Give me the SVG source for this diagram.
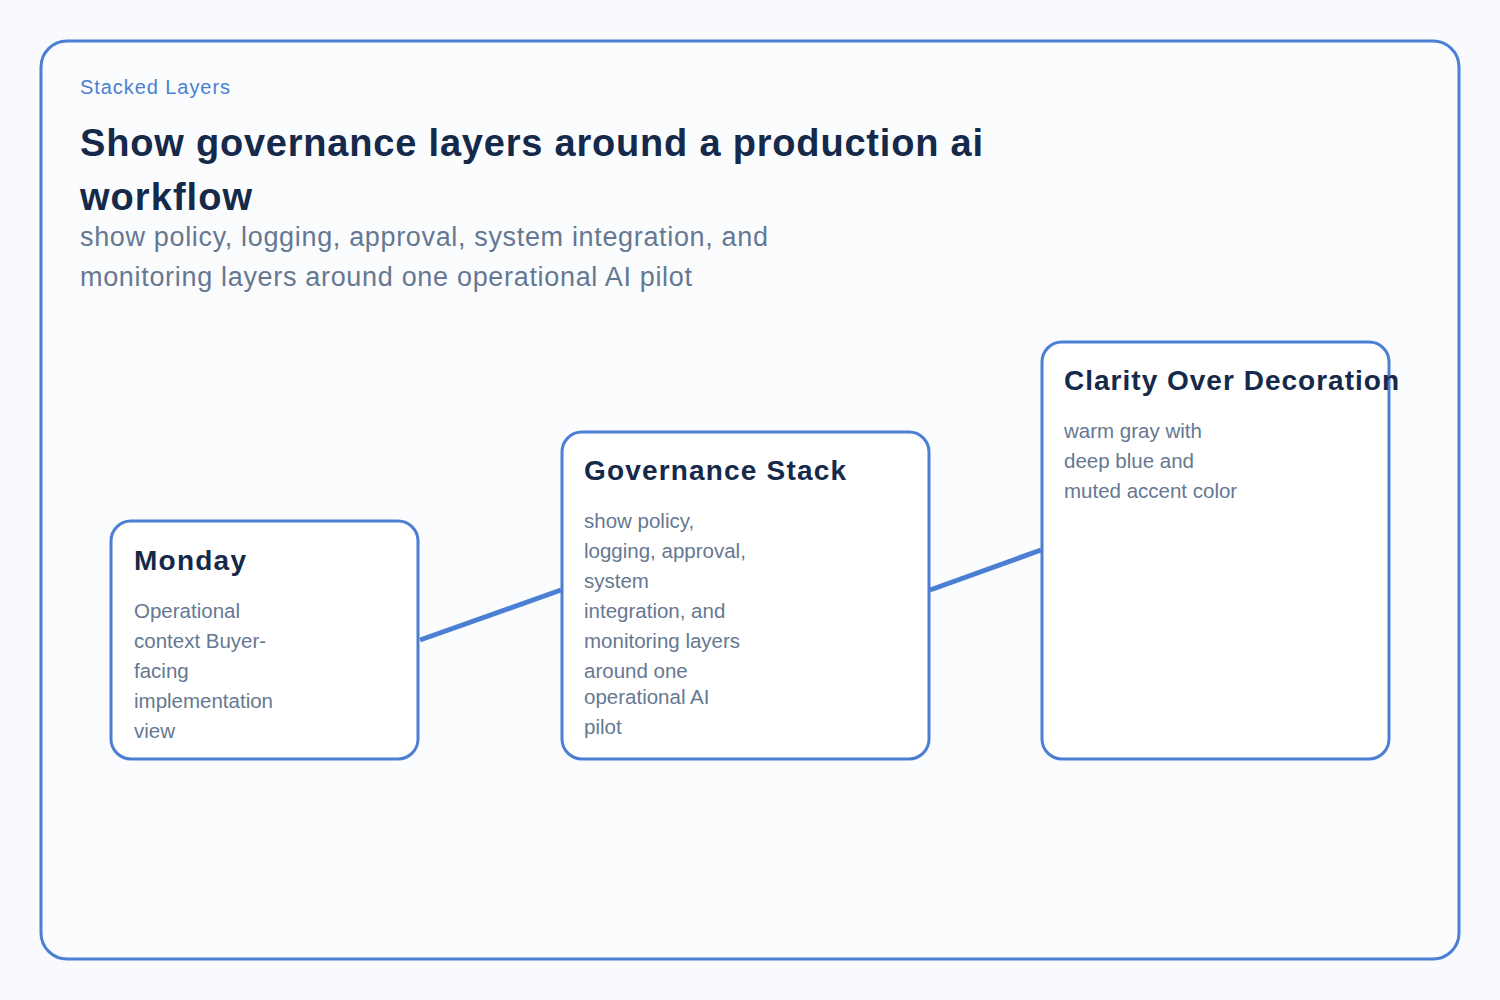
<svg xmlns="http://www.w3.org/2000/svg" width="1500" height="1000" viewBox="0 0 1500 1000">
<style>
text{font-family:"Liberation Sans",Arial,sans-serif}
.node{fill:#fff;stroke:#4a7fd4;stroke-width:3}
.t{font-size:28px;font-weight:bold;fill:#15294a}
.b{font-size:20.5px;fill:#667891}
.e{stroke:#4a7fd4;stroke-width:5;fill:none}
</style>
<rect width="1500" height="1000" fill="#f8fafd"/>
<rect x="41" y="41" width="1418" height="918" rx="26" fill="#fafcfe" stroke="#4a7fd4" stroke-width="3"/>
<text x="80" y="94" font-size="20" fill="#4a7fd4" textLength="150">Stacked Layers</text>
<text x="80" y="156" font-size="38" font-weight="bold" fill="#15294a" textLength="903">Show governance layers around a production ai</text>
<text x="80" y="210" font-size="38" font-weight="bold" fill="#15294a" textLength="172">workflow</text>
<text x="80" y="246" font-size="27" fill="#667891" textLength="688">show policy, logging, approval, system integration, and</text>
<text x="80" y="286" font-size="27" fill="#667891" textLength="612">monitoring layers around one operational AI pilot</text>
<g id="connectors">
<line class="e" x1="420" y1="640" x2="561" y2="590"/>
<line class="e" x1="930" y1="590" x2="1041" y2="550"/>
</g>
<g id="monday">
<rect class="node" x="111" y="521" width="307" height="238" rx="20"/>
<text class="t" x="134" y="570" textLength="112">Monday</text>
<text class="b" x="134" y="618">Operational</text>
<text class="b" x="134" y="648">context Buyer-</text>
<text class="b" x="134" y="678">facing</text>
<text class="b" x="134" y="708">implementation</text>
<text class="b" x="134" y="738">view</text>
</g>
<g id="governance">
<rect class="node" x="562" y="432" width="367" height="327" rx="20"/>
<text class="t" x="584" y="480" textLength="262">Governance Stack</text>
<text class="b" x="584" y="528">show policy,</text>
<text class="b" x="584" y="558">logging, approval,</text>
<text class="b" x="584" y="588">system</text>
<text class="b" x="584" y="618">integration, and</text>
<text class="b" x="584" y="648">monitoring layers</text>
<text class="b" x="584" y="678">around one</text>
<text class="b" x="584" y="704">operational AI</text>
<text class="b" x="584" y="734">pilot</text>
</g>
<g id="clarity">
<rect class="node" x="1042" y="342" width="347" height="417" rx="20"/>
<text class="t" x="1064" y="390" textLength="335">Clarity Over Decoration</text>
<text class="b" x="1064" y="438">warm gray with</text>
<text class="b" x="1064" y="468">deep blue and</text>
<text class="b" x="1064" y="498">muted accent color</text>
</g>
</svg>
